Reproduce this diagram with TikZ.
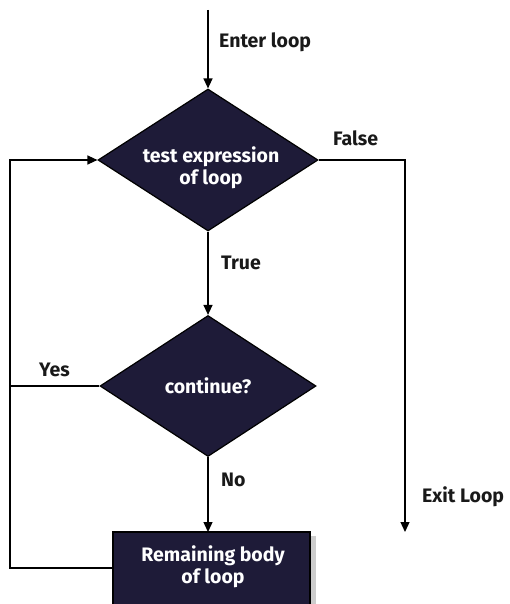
\documentclass[tikz,border=0pt]{standalone}
\usepackage{fontspec}
\setmainfont{Fira Sans}
\usetikzlibrary{shapes.geometric,arrows.meta}
\definecolor{boxfill}{HTML}{1E1B38}
\tikzset{
  decision/.style={diamond, draw=black, line width=1.2pt, fill=boxfill, text=white,
    minimum width=220pt, minimum height=142pt, inner sep=0pt, aspect=1.55,
    font=\bfseries\fontsize{19.5}{22}\selectfont, align=center},
  blockbox/.style={rectangle, text=white,
    font=\bfseries\fontsize{19.5}{22}\selectfont, align=center},
  conn/.style={line width=1.3pt, draw=black},
  arr/.style={conn, -{Triangle[length=10pt,width=9pt]}},
  lbl/.style={font=\bfseries\fontsize{19.5}{22}\selectfont, text=black!90}
}
\begin{document}
\begin{tikzpicture}[x=1pt,y=-1pt]
\useasboundingbox (0,0) rectangle (509,604);
\fill[white] (0,0) rectangle (509,604);
% shadows
\fill[black!20] (116,536) rectangle (316,610);
% nodes
\node[decision] (test) at (208,160) {};
\node[text=white, font=\bfseries\fontsize{19.5}{22}\selectfont, align=center] (testtxt) at (211,168) {test expression\\of loop};
\node[decision, minimum width=216pt, minimum height=141pt] (cont) at (208,386) {continue?};
\draw[line width=1.2pt, fill=boxfill] (113,532) rectangle (310,612);
\node[blockbox] (body) at (213,567) {Remaining body\\of loop};
\coordinate (bodyW) at (113,568);
\coordinate (bodyN) at (208,532);
\coordinate (start) at (208,10);
\coordinate (tl) at (10,160);
\coordinate (yl) at (10,386);
\coordinate (bl) at (10,568);
\coordinate (fr) at (405,160);
\coordinate (exitend) at (405,532);
% connectors
\draw[arr] (start) -- (test.north);
\draw[arr] (test.south) -- (cont.north);
\draw[arr] (cont.south) -- (bodyN);
\draw[arr] (test.east) -- (fr) -- (exitend);
\draw[conn] (cont.west) -- (yl);
\draw[arr] (bodyW) -- (bl) -- (tl) -- (test.west);
% labels
\node[lbl, anchor=west, inner sep=0pt] (lenter) at (219,42) {Enter loop};
\node[lbl, anchor=west, inner sep=0pt] (lfalse) at (333,138) {False};
\node[lbl, anchor=west, inner sep=0pt] (ltrue) at (221,263) {True};
\node[lbl, anchor=west, inner sep=0pt] (lyes) at (39,370) {Yes};
\node[lbl, anchor=west, inner sep=0pt] (lno) at (221,480) {No};
\node[lbl, anchor=west, inner sep=0pt] (lexit) at (422,497) {Exit Loop};
\end{tikzpicture}
\end{document}
